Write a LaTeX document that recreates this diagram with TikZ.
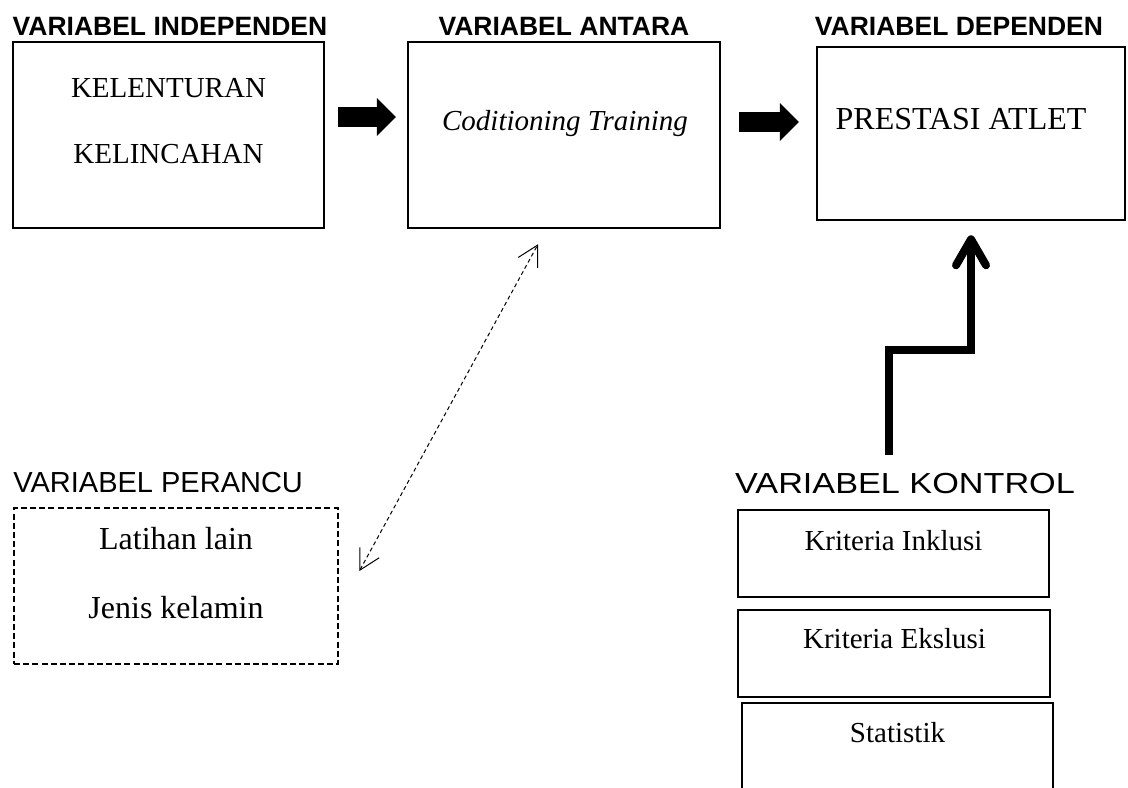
\documentclass[tikz,border=0pt]{standalone}
\usepackage{fontspec}
\setmainfont{Liberation Serif}
\setsansfont{Liberation Sans}
\usetikzlibrary{arrows.meta, positioning}
\tikzset{
	x=0.5pt, y=-0.5pt, % satu satuan = satu piksel
	kotak/.style={draw, line width=1.25pt, inner sep=0pt}, % kotak variabel
	kotakputus/.style={kotak, line width=1.4pt, dash pattern=on 3pt off 1.6pt}, % kotak variabel perancu
	judul/.style={font=\sffamily\bfseries\fontsize{13.25pt}{15pt}\selectfont, anchor=base, inner sep=0pt},
	judultipis/.style={font=\sffamily\fontsize{14.5pt}{17pt}\selectfont, anchor=base, inner sep=0pt},
	isi/.style={font=\fontsize{14.5pt}{17pt}\selectfont, anchor=base, inner sep=0pt},
	isibesar/.style={font=\fontsize{16pt}{19pt}\selectfont, anchor=base, inner sep=0pt},
	panahtebal/.style={line width=10pt, -{Triangle[length=9.5pt, width=19pt, line width=0pt 0]}}, % panah blok
	panahputus/.style={line width=0.5pt, dash pattern=on 2pt off 1.5pt,
		{Straight Barb[length=10pt, width=11pt]}-{Straight Barb[length=10pt, width=11pt]}},
	panahkontrol/.style={line width=4pt, -{Straight Barb[length=13pt, width=15pt, round]}}
}

\begin{document}
\begin{tikzpicture}
	\useasboundingbox (0,0) rectangle (1128,787);
	\clip (0,0) rectangle (1128,787);
	% judul
	\node[judul] (jindep) at (170,35) {VARIABEL INDEPENDEN};
	\node[judul] (jantara) at (564,35) {VARIABEL ANTARA};
	\node[judul] (jdep) at (959,35) {VARIABEL DEPENDEN};
	\node[judultipis, anchor=base west] (jperancu) at (13,492) {VARIABEL PERANCU};
	\node[judultipis] (jkontrol) at (905,493) {\scalebox{1.18}[1]{VARIABEL KONTROL}};
	% kotak
	\node[kotak, minimum width=155.5pt, minimum height=93pt] (indep) at (168.5,135) {};
	\node[kotak, minimum width=156pt, minimum height=93pt] (antara) at (564,135) {};
	\node[kotak, minimum width=154pt, minimum height=86.5pt] (dependen) at (971,133.5) {};
	\node[kotakputus, minimum width=162pt, minimum height=78pt] (perancu) at (176,586) {};
	\node[kotak, minimum width=155.5pt, minimum height=43.5pt] (inklusi) at (893.5,553.5) {};
	\node[kotak, minimum width=156pt, minimum height=43.5pt] (ekslusi) at (894,653.5) {};
	\node[kotak, minimum width=155.5pt, minimum height=55pt] (statistik) at (897.5,758) {};
	% isi kotak
	\node[isi] (kelenturan) at (168.5,97) {KELENTURAN};
	\node[isi] (kelincahan) at (168.5,163) {KELINCAHAN};
	\node[isi] (training) at (565,130) {\itshape Coditioning Training};
	\node[isibesar] (prestasi) at (961,129) {PRESTASI ATLET};
	\node[isibesar] (latihan) at (176,549) {Latihan lain};
	\node[isibesar] (kelamin) at (176,618) {Jenis kelamin};
	\node[isi] (tinklusi) at (893.5,550) {Kriteria Inklusi};
	\node[isi] (tekslusi) at (894.5,648) {Kriteria Ekslusi};
	\node[isi] (tstatistik) at (897.5,742) {Statistik};
	% panah
	\coordinate (ctl) at (889,455);
	\draw[panahtebal, shorten <=6.5pt, shorten >=5.5pt] ([yshift=9pt]indep.east) -- ([yshift=9pt]indep.east -| antara.west);
	\draw[panahtebal, shorten <=9pt, shorten >=8.5pt] ([yshift=6.5pt]antara.east) -- ([yshift=6.5pt]antara.east -| dependen.west);
	\draw[panahputus] ([xshift=10pt, yshift=7.5pt]perancu.east) -- ([xshift=-13pt, yshift=-7.5pt]antara.south);
	\draw[panahkontrol, shorten >=7pt] (ctl) -- ++(0,-105) -| (dependen.south);
\end{tikzpicture}
\end{document}
